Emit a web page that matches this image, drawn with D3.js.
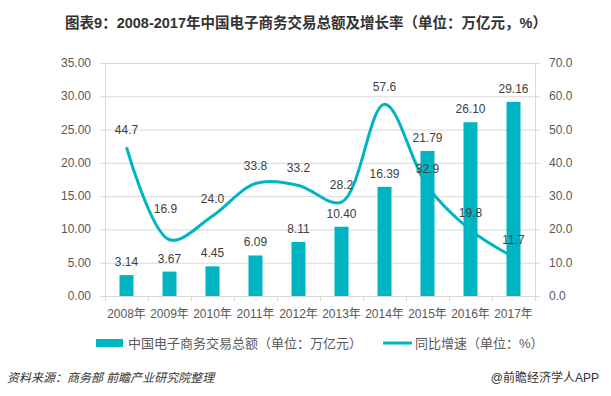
<!DOCTYPE html>
<html>
<head>
<meta charset="utf-8">
<script src="https://cdn.jsdelivr.net/npm/d3@7"></script>
<style>
  body { margin: 0; background: #fff; }
  text { font-family: "Liberation Sans", "Noto Sans CJK SC", sans-serif; }
</style>
</head>
<body>
<script>
// data
const years = ["2008年", "2009年", "2010年", "2011年", "2012年", "2013年", "2014年", "2015年", "2016年", "2017年"];
const totals = [3.14, 3.67, 4.45, 6.09, 8.11, 10.40, 16.39, 21.79, 26.10, 29.16];
const growth = [44.7, 16.9, 24.0, 33.8, 33.2, 28.2, 57.6, 32.9, 19.8, 11.7];
const leftTicks = [0, 5, 10, 15, 20, 25, 30, 35];
const rightTicks = [0, 10, 20, 30, 40, 50, 60, 70];

const W = 611, H = 396;
const teal = "#00b5c2";
const grey = "#595959";
const cjk = '"Noto Sans CJK SC", sans-serif';

const svg = d3.select("body").append("svg")
    .attr("width", W)
    .attr("height", H);

const m = { left: 105, right: 535, top: 63, bottom: 296 };

const x = d3.scaleBand().domain(years).range([m.left, m.right]);
const yL = d3.scaleLinear().domain([0, 35]).range([m.bottom, m.top]);
const yR = d3.scaleLinear().domain([0, 70]).range([m.bottom, m.top]);

// title
svg.append("text")
    .attr("x", 306)
    .attr("y", 28)
    .attr("text-anchor", "middle")
    .attr("font-family", cjk)
    .attr("font-weight", "bold")
    .attr("font-size", 14.5)
    .attr("fill", "#333")
    .text("图表9：2008-2017年中国电子商务交易总额及增长率（单位：万亿元，%）");

// gridlines
svg.append("g")
    .selectAll("line")
    .data(leftTicks)
    .join("line")
    .attr("x1", m.left - 5)
    .attr("x2", m.right + 5)
    .attr("y1", d => yL(d) + 0.5)
    .attr("y2", d => yL(d) + 0.5)
    .attr("stroke", "#d9d9d9");

// vertical axis lines
[m.left, m.right].forEach(v => {
    svg.append("line")
        .attr("x1", v + 0.5).attr("x2", v + 0.5)
        .attr("y1", m.top).attr("y2", m.bottom + 5)
        .attr("stroke", "#d9d9d9");
});

// category ticks
svg.append("g")
    .selectAll("line")
    .data(years.slice(1))
    .join("line")
    .attr("x1", d => x(d) + 0.5)
    .attr("x2", d => x(d) + 0.5)
    .attr("y1", m.bottom)
    .attr("y2", m.bottom + 5)
    .attr("stroke", "#d9d9d9");

// left axis labels
svg.append("g")
    .selectAll("text")
    .data(leftTicks)
    .join("text")
    .attr("x", 91)
    .attr("y", d => yL(d) + 4)
    .attr("text-anchor", "end")
    .attr("font-size", 12)
    .attr("fill", grey)
    .text(d => d3.format(".2f")(d));

// right axis labels
svg.append("g")
    .selectAll("text")
    .data(rightTicks)
    .join("text")
    .attr("x", 549)
    .attr("y", d => yR(d) + 4)
    .attr("font-size", 12)
    .attr("fill", grey)
    .text(d => d3.format(".1f")(d));

// x labels
svg.append("g")
    .selectAll("text")
    .data(years)
    .join("text")
    .attr("x", d => x(d) + x.bandwidth() / 2)
    .attr("y", 318)
    .attr("text-anchor", "middle")
    .attr("font-size", 12)
    .attr("fill", grey)
    .text(d => d);

// bars
const bw = 14;
svg.append("g")
    .selectAll("rect")
    .data(totals)
    .join("rect")
    .attr("x", (d, i) => x(years[i]) + x.bandwidth() / 2 - bw / 2)
    .attr("y", d => yL(d))
    .attr("width", bw)
    .attr("height", d => m.bottom - yL(d))
    .attr("fill", teal);

// line
const line = d3.line()
    .x((d, i) => x(years[i]) + x.bandwidth() / 2)
    .y(d => yR(d))
    .curve(d3.curveCatmullRom.alpha(0.5));

svg.append("path")
    .datum(growth)
    .attr("d", line)
    .attr("fill", "none")
    .attr("stroke", teal)
    .attr("stroke-width", 3);

// bar labels
svg.append("g")
    .selectAll("text")
    .data(totals)
    .join("text")
    .attr("x", (d, i) => x(years[i]) + x.bandwidth() / 2)
    .attr("y", d => yL(d) - 9)
    .attr("text-anchor", "middle")
    .attr("font-size", 12)
    .attr("fill", "#404040")
    .text(d => d3.format(".2f")(d));

// line labels
svg.append("g")
    .selectAll("text")
    .data(growth)
    .join("text")
    .attr("x", (d, i) => x(years[i]) + x.bandwidth() / 2 + (i === 1 ? -4 : 0))
    .attr("y", (d, i) => yR(d) - (i === 1 ? 27 : 13))
    .attr("text-anchor", "middle")
    .attr("font-size", 12)
    .attr("fill", "#404040")
    .text(d => d3.format(".1f")(d));

// legend
const lg = svg.append("g").attr("font-family", cjk).attr("font-size", 13).attr("fill", grey);
lg.append("rect").attr("x", 96).attr("y", 339).attr("width", 27).attr("height", 8).attr("fill", teal);
lg.append("text").attr("x", 128).attr("y", 348).text("中国电子商务交易总额（单位：万亿元）");
lg.append("line").attr("x1", 383).attr("x2", 412).attr("y1", 343).attr("y2", 343)
    .attr("stroke", teal).attr("stroke-width", 3);
lg.append("text").attr("x", 415).attr("y", 348).text("同比增速（单位：%）");

// footer
svg.append("text")
    .attr("x", 7)
    .attr("y", 382)
    .attr("font-family", cjk)
    .attr("font-size", 12)
    .attr("font-style", "italic")
    .attr("fill", "#333")
    .text("资料来源：商务部 前瞻产业研究院整理");

svg.append("text")
    .attr("x", 599)
    .attr("y", 382)
    .attr("text-anchor", "end")
    .attr("font-family", cjk)
    .attr("font-size", 12)
    .attr("fill", "#333")
    .text("@前瞻经济学人APP");
</script>
</body>
</html>
